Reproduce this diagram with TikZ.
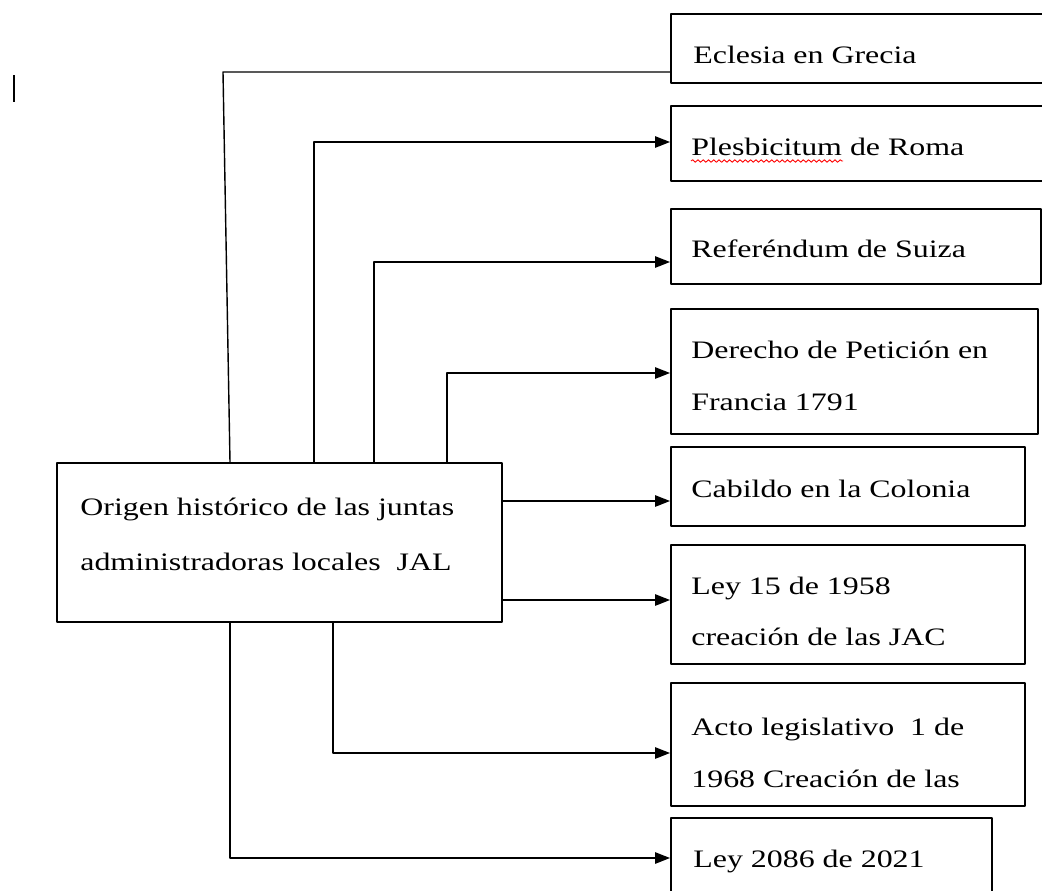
\documentclass[tikz,border=0pt]{standalone}
\usepackage{fontspec}
\setmainfont{Liberation Serif}[FakeStretch=1.27]
\usetikzlibrary{arrows.meta,decorations.pathmorphing}

\begin{document}
\begin{tikzpicture}[x=0.02cm,y=-0.02cm,line join=round,>={Triangle[length=8.5pt,width=6.5pt]},
	caja/.style={draw,line width=0.9pt,inner sep=0pt,anchor=north west},
	texto/.style={anchor=base west,inner sep=0pt,font=\fontsize{14.3}{17}\selectfont},
	linea/.style={line width=0.8pt}]
	\useasboundingbox (0,0) rectangle (1042,890);
	\fill[white] (0,0) rectangle (1042,890);
	\clip (0,0) rectangle (1042,890);
	
	% cajas
	\node[caja,minimum width=445*0.02cm,minimum height=159*0.02cm] (jal) at (56,462) {};
	\node[caja,minimum width=390*0.02cm,minimum height=69*0.02cm] (ecl) at (670,13) {};
	\node[caja,minimum width=390*0.02cm,minimum height=75*0.02cm] (pleb) at (670,105) {};
	\node[caja,minimum width=370*0.02cm,minimum height=75*0.02cm] (ref) at (670,208) {};
	\node[caja,minimum width=367*0.02cm,minimum height=125*0.02cm] (der) at (670,308) {};
	\node[caja,minimum width=354*0.02cm,minimum height=79*0.02cm] (cab) at (670,446) {};
	\node[caja,minimum width=354*0.02cm,minimum height=119*0.02cm] (ley15) at (670,544) {};
	\node[caja,minimum width=354*0.02cm,minimum height=123*0.02cm] (acto) at (670,682) {};
	\node[caja,minimum width=321*0.02cm,minimum height=100*0.02cm] (ley21) at (670,817) {};
	
	% textos
	\node[texto] (jal-a) at (80,515) {Origen histórico de las juntas};
	\node[texto] (jal-b) at (80,570) {administradoras locales\ \ JAL};
	\node[texto] (ecl-a) at (693,63) {Eclesia en Grecia};
	\node[texto] (pleb-a) at (691,155) {Plesbicitum de Roma};
	\node[texto] (ref-a) at (691,257) {Referéndum de Suiza};
	\node[texto] (der-a) at (691,358) {Derecho de Petición en};
	\node[texto] (der-b) at (691,410) {Francia 1791};
	\node[texto] (cab-a) at (691,497) {Cabildo en la Colonia};
	\node[texto] (ley15-a) at (691,594) {Ley 15 de 1958};
	\node[texto] (ley15-b) at (691,645) {creación de las JAC};
	\node[texto] (acto-a) at (691,735) {Acto legislativo\ \ 1 de};
	\node[texto] (acto-b) at (691,787) {1968 Creación de las};
	\node[texto] (ley21-a) at (693,867) {Ley 2086 de 2021};
	
	\draw[red,line width=0.5pt,decorate,decoration={snake,amplitude=0.7pt,segment length=3pt}]
	(691,161) -- (843,161);
	\draw[line width=1.1pt] (14,75) -- (14,102);
	
	% codos
	\path
	(223,72) coordinate (b1)
	(314,142) coordinate (b2)
	(374,262) coordinate (b3)
	(447,373) coordinate (b4)
	(670,501) coordinate (b5)
	(670,600) coordinate (b6)
	(333,753) coordinate (b7)
	(230,858) coordinate (b8);
	
	% conectores
	\draw[linea] (jal.north -| b8) -- (b1) -- (ecl.west |- b1);
	\draw[linea,->] (jal.north -| b2) -- (b2) -- (pleb.west |- b2);
	\draw[linea,->] (jal.north -| b3) -- (b3) -- (ref.west |- b3);
	\draw[linea,->] (jal.north -| b4) -- (b4) -- (der.west |- b4);
	\draw[linea,->] (jal.east |- b5) -- (b5);
	\draw[linea,->] (jal.east |- b6) -- (b6);
	\draw[linea,->] (jal.south -| b7) -- (b7) -- (acto.west |- b7);
	\draw[linea,->] (jal.south -| b8) -- (b8) -- (ley21.west |- b8);
	
\end{tikzpicture}
\end{document}
